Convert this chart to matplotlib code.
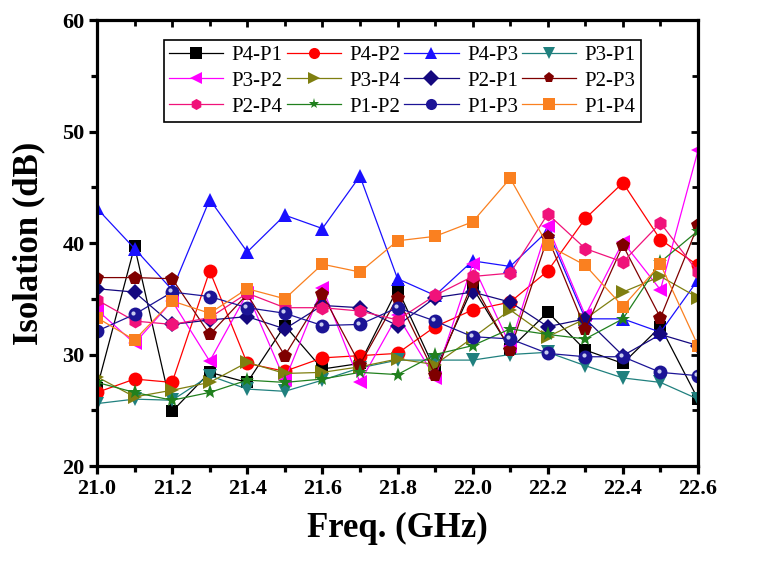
import numpy as np
import matplotlib
matplotlib.use("Agg")
import matplotlib.pyplot as plt
from matplotlib.ticker import MultipleLocator, FormatStrFormatter, NullFormatter
from matplotlib.transforms import offset_copy

plt.rcParams['font.family'] = ['Liberation Serif', 'DejaVu Serif']

# frequency points (GHz)
freq = [21.0, 21.1, 21.2, 21.3, 21.4, 21.5, 21.6, 21.7, 21.8, 21.9,
        22.0, 22.1, 22.2, 22.3, 22.4, 22.5, 22.6]

# isolation values (dB)
p4_p1 = [27.0, 39.7, 24.9, 28.4, 27.5, 32.6, 28.7, 29.2, 35.9, 28.6, 36.0, 30.5, 33.8, 30.4, 29.2, 32.5, 26.0]
p4_p2 = [26.6, 27.8, 27.5, 37.5, 29.2, 28.5, 29.7, 29.9, 30.1, 32.5, 34.0, 34.7, 37.5, 42.2, 45.4, 40.3, 38.0]
p4_p3 = [43.1, 39.5, 35.8, 43.9, 39.2, 42.5, 41.3, 46.0, 36.8, 35.3, 38.4, 37.9, 41.1, 33.2, 33.2, 32.0, 36.7]
p3_p1 = [25.6, 26.0, 25.9, 28.1, 26.9, 26.7, 27.7, 28.8, 29.5, 29.5, 29.5, 30.0, 30.2, 29.0, 27.9, 27.5, 26.0]
p3_p2 = [34.0, 31.0, 34.8, 29.4, 35.5, 27.7, 36.0, 27.5, 33.5, 27.9, 38.1, 30.8, 41.5, 33.5, 40.1, 35.8, 48.3]
p3_p4 = [28.0, 26.2, 26.8, 27.5, 29.3, 28.3, 28.4, 28.9, 29.6, 29.1, 31.5, 34.0, 31.6, 33.2, 35.6, 37.0, 35.1]
p2_p1 = [35.9, 35.6, 32.7, 33.1, 33.4, 32.3, 34.4, 34.2, 32.6, 35.1, 35.6, 34.7, 32.5, 33.2, 29.9, 31.8, 30.8]
p2_p3 = [36.9, 36.9, 36.8, 31.8, 35.4, 29.9, 35.4, 29.1, 35.1, 28.2, 36.5, 30.4, 40.5, 32.3, 39.8, 33.3, 41.6]
p2_p4 = [34.9, 33.0, 32.7, 33.3, 35.5, 34.2, 34.2, 33.9, 33.1, 35.3, 37.0, 37.3, 42.6, 39.5, 38.3, 41.8, 37.4]
p1_p2 = [27.5, 26.6, 25.9, 26.6, 27.7, 27.5, 27.8, 28.4, 28.2, 30.0, 30.8, 32.3, 31.8, 31.4, 33.2, 38.3, 41.1]
p1_p3 = [32.1, 33.6, 35.6, 35.2, 34.2, 33.7, 32.6, 32.7, 34.2, 33.0, 31.6, 31.4, 30.1, 29.8, 29.8, 28.4, 28.1]
p1_p4 = [33.3, 31.3, 34.8, 33.7, 35.9, 35.0, 38.1, 37.4, 40.2, 40.6, 41.9, 45.8, 39.8, 38.0, 34.3, 38.1, 30.8]

labels = ['P4-P1', 'P4-P2', 'P4-P3', 'P3-P1', 'P3-P2', 'P3-P4',
          'P2-P1', 'P2-P3', 'P2-P4', 'P1-P2', 'P1-P3', 'P1-P4']
series = [p4_p1, p4_p2, p4_p3, p3_p1, p3_p2, p3_p4,
          p2_p1, p2_p3, p2_p4, p1_p2, p1_p3, p1_p4]
colors = ['#000000', '#ff0000', '#1a10ff', '#20807e', '#ff00ff', '#7f7f10',
          '#14087f', '#7f0000', '#f0127a', '#21801e', '#1c1496', '#fa8020']
markers = ['s', 'o', '^', 'v', '<', '>', 'D', 'p', 'h', '*', 'o', 's']
msizes = [9, 10, 10, 10, 10, 10, 8.5, 10, 10, 11, 10, 9]

fig = plt.figure(figsize=(7.73, 5.61), dpi=100)
ax = fig.add_axes([0.1255, 0.1693, 0.7775, 0.795])

handles = []
for i in range(len(series)):
    h, = ax.plot(freq, series[i], color=colors[i], marker=markers[i],
                 markersize=msizes[i], linewidth=0.9, markeredgewidth=0,
                 label=labels[i])
    handles.append(h)
# small highlight on the "sphere" markers (upper-left)
hl = offset_copy(ax.transData, fig=fig, x=-1.3, y=1.3, units='points')
ax.plot(freq, p1_p3, linestyle='none', marker='o', markersize=3,
        color='#c8cbee', markeredgewidth=0, transform=hl)

ax.set_xlim(21.0, 22.6)
ax.set_ylim(20, 60)
ax.xaxis.set_major_locator(MultipleLocator(0.2))
ax.xaxis.set_minor_locator(MultipleLocator(0.1))
ax.yaxis.set_major_locator(MultipleLocator(10))
ax.yaxis.set_minor_locator(MultipleLocator(5))
ax.xaxis.set_major_formatter(FormatStrFormatter('%.1f'))

for s in ax.spines.values():
    s.set_linewidth(2.3)
ax.tick_params(axis='both', which='both', direction='out', width=2.3,
               labelsize=16, pad=3)
ax.tick_params(which='major', length=6)
ax.tick_params(which='minor', length=4)
for lab in ax.get_xticklabels() + ax.get_yticklabels():
    lab.set_fontweight('bold')

# mirrored ticks on top and right, pointing inward
top = ax.secondary_xaxis('top')
top.xaxis.set_major_locator(MultipleLocator(0.2))
top.xaxis.set_minor_locator(MultipleLocator(0.1))
top.xaxis.set_major_formatter(NullFormatter())
top.tick_params(which='both', direction='in', width=2, length=4)
top.tick_params(which='major', length=5)
right = ax.secondary_yaxis('right')
right.yaxis.set_major_locator(MultipleLocator(10))
right.yaxis.set_minor_locator(MultipleLocator(5))
right.yaxis.set_major_formatter(NullFormatter())
right.tick_params(which='both', direction='in', width=2, length=4)
right.tick_params(which='major', length=5)

ax.set_xlabel('Freq. (GHz)', fontsize=25, fontweight='bold', labelpad=10)
ax.set_ylabel('Isolation (dB)', fontsize=25, fontweight='bold', labelpad=12)

# legend filled row by row
order = [0, 4, 8, 1, 5, 9, 2, 6, 10, 3, 7, 11]
leg = ax.legend([handles[k] for k in order], [labels[k] for k in order],
                ncol=4, loc='upper center', bbox_to_anchor=(0.508, 0.955),
                fontsize=15, frameon=True, fancybox=False, framealpha=1,
                edgecolor='black', handlelength=2.6, handletextpad=0.4,
                columnspacing=0.2, labelspacing=0.3, borderpad=0.25,
                borderaxespad=0)
leg.get_frame().set_linewidth(1.2)
for lh in leg.legend_handles:
    lh.set_markersize(8)

fig.savefig('out.png', dpi=100)
